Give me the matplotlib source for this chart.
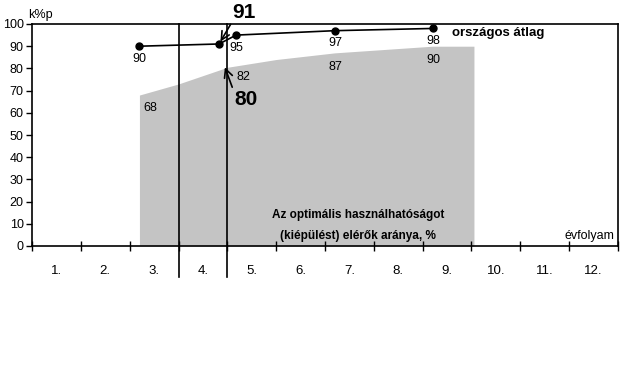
import matplotlib
matplotlib.use("Agg")
import matplotlib.pyplot as plt
from matplotlib import font_manager

names = {f.name for f in font_manager.fontManager.ttflist}
NARROW = ['Liberation Sans Narrow', 'Liberation Sans', 'DejaVu Sans'] if 'Liberation Sans Narrow' in names else ['Liberation Sans', 'DejaVu Sans']
REG = ['Liberation Sans', 'DejaVu Sans']

# ---- data ----
grades = ['1.', '2.', '3.', '4.', '5.', '6.', '7.', '8.', '9.', '10.', '11.', '12.']
avg_x = [2.2, 3.83, 4.18, 6.21, 8.22]
avg_y = [90, 91, 95, 97, 98]
avg_labels = ['90', '', '95', '97', '98']
opt_x = [2.2, 3.0, 4.0, 5.0, 6.2, 7.2, 8.2, 9.05]
opt_y = [68, 73, 80.5, 84, 87, 88.5, 90, 90]
opt_label_x = [2.2, 4.18, 6.21, 8.22]
opt_label_y = [68, 82, 87, 90]
yticks = list(range(0, 101, 10))
stage_lines = [3, 4]

fig = plt.figure(figsize=(6.33, 3.84), dpi=100)
ax = fig.add_axes([32 / 633, 1 - 246 / 384, 586 / 633, 222 / 384])
ax.set_xlim(0, 12)
ax.set_ylim(0, 100)

ax.fill_between(opt_x, 0, opt_y, color='#c4c4c4', linewidth=0, zorder=1)
ax.plot(avg_x, avg_y, color='black', lw=1.2, marker='o', ms=5, zorder=3)

for x in stage_lines:
    ax.plot([x, x], [-14, 100], color='black', lw=1.2, clip_on=False, zorder=4)

# data labels
for x, y, t in zip(avg_x, avg_y, avg_labels):
    if t:
        ax.text(x, y - 3, t, ha='center', va='top', fontsize=9, family=REG, zorder=5)
for i, (x, y) in enumerate(zip(opt_label_x, opt_label_y)):
    if i == 0:
        ax.text(x + 0.08, y - 3, str(y), ha='left', va='top', fontsize=9, family=REG, zorder=5)
    elif i == 1:
        ax.text(x, y - 3, str(y), ha='left', va='top', fontsize=9, family=REG, zorder=5)
    else:
        ax.text(x, y - 3.5, str(y), ha='center', va='top', fontsize=9, family=REG, zorder=5)

ax.annotate('91', xy=(avg_x[1], avg_y[1]), xytext=(4.1, 105.4), fontsize=15, fontweight='bold',
            family=REG, ha='left', va='center', annotation_clip=False,
            arrowprops=dict(arrowstyle='->', color='black', lw=1.2, shrinkA=0, shrinkB=2,
                            relpos=(0.05, 0.1)))
ax.annotate('80', xy=(3.95, 80.5), xytext=(4.15, 66), fontsize=15, fontweight='bold',
            family=REG, ha='left', va='center',
            arrowprops=dict(arrowstyle='->', color='black', lw=1.2, shrinkA=0, shrinkB=0,
                            relpos=(0.0, 0.8)))

ax.text(8.6, 96, 'országos átlag', fontsize=9.5, fontweight='bold', family=NARROW,
        ha='left', va='center')
ax.text(6.68, 14, 'Az optimális használhatóságot', fontsize=8.5, fontweight='bold',
        family=NARROW, ha='center', va='center', zorder=5)
ax.text(6.68, 4.5, '(kiépülést) elérők aránya, %', fontsize=8.5, fontweight='bold',
        family=NARROW, ha='center', va='center', zorder=5)
ax.text(11.93, 2, 'évfolyam', fontsize=9, family=NARROW, ha='right', va='bottom')
fig.text(28 / 633, 1 - 15 / 384, 'k%p', fontsize=9, family=NARROW, ha='left', va='center')

ax.set_yticks(yticks)
ax.set_yticklabels([str(v) for v in yticks], fontsize=9, family=NARROW)
ax.tick_params(axis='y', direction='out', length=4, width=1, pad=2)
ax.set_xticks(range(0, 13))
ax.set_xticklabels([])
ax.tick_params(axis='x', which='major', direction='inout', length=7, width=1)
ax.set_xticks([i + 0.5 for i in range(12)], minor=True)
ax.set_xticklabels(grades, minor=True, fontsize=9.5, family=NARROW)
ax.tick_params(axis='x', which='minor', length=0, pad=14)

for s in ax.spines.values():
    s.set_linewidth(1.2)

fig.savefig('out.png', dpi=100)
